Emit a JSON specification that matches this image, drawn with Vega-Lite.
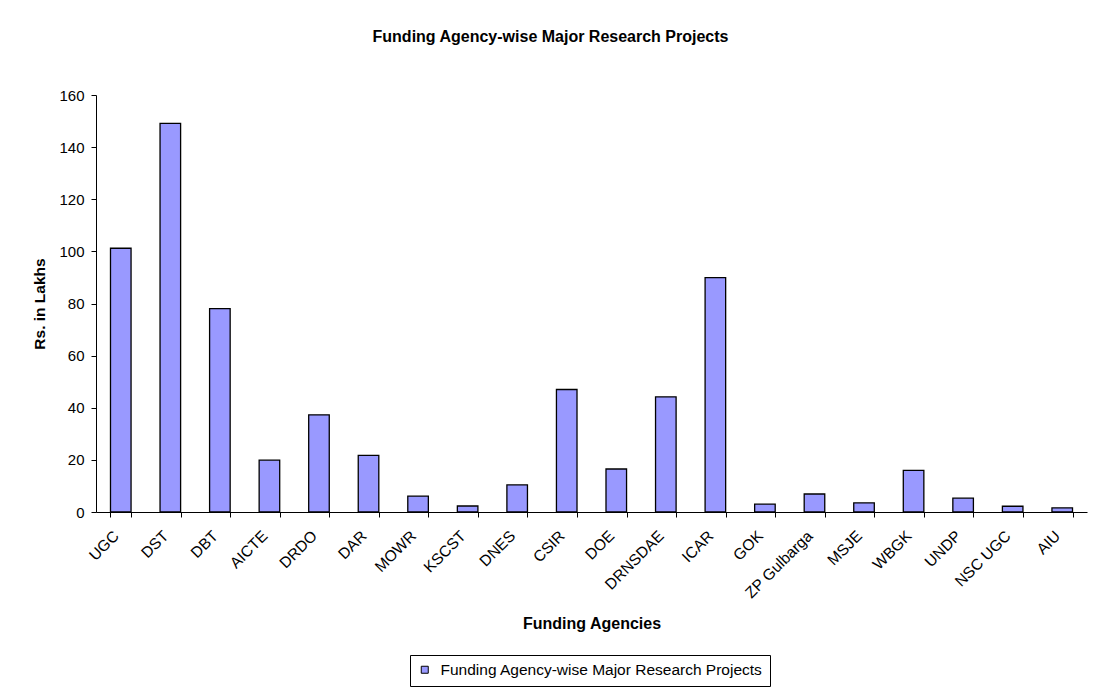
{
  "$schema": "https://vega.github.io/schema/vega-lite/v6.json",
  "autosize": "none",
  "width": 991,
  "height": 417,
  "padding": {"left": 96, "top": 95, "right": 10, "bottom": 177},
  "background": "white",
  "title": {
    "text": "Funding Agency-wise Major Research Projects",
    "font": "Liberation Sans",
    "fontSize": 16,
    "fontWeight": "bold",
    "color": "black",
    "anchor": "middle",
    "dx": -41,
    "offset": 43
  },
  "data": {
    "values": [
      {"agency": "UGC", "value": 101.2},
      {"agency": "DST", "value": 149.1},
      {"agency": "DBT", "value": 78.0},
      {"agency": "AICTE", "value": 19.9},
      {"agency": "DRDO", "value": 37.3},
      {"agency": "DAR", "value": 21.7},
      {"agency": "MOWR", "value": 6.1},
      {"agency": "KSCST", "value": 2.3},
      {"agency": "DNES", "value": 10.4},
      {"agency": "CSIR", "value": 47.0},
      {"agency": "DOE", "value": 16.5},
      {"agency": "DRNSDAE", "value": 44.2},
      {"agency": "ICAR", "value": 89.9},
      {"agency": "GOK", "value": 3.0},
      {"agency": "ZP Gulbarga", "value": 6.9},
      {"agency": "MSJE", "value": 3.5},
      {"agency": "WBGK", "value": 16.0},
      {"agency": "UNDP", "value": 5.3},
      {"agency": "NSC UGC", "value": 2.2},
      {"agency": "AIU", "value": 1.6}
    ]
  },
  "mark": {"type": "bar", "stroke": "black", "strokeWidth": 1.3},
  "encoding": {
    "x": {
      "field": "agency",
      "type": "nominal",
      "sort": null,
      "scale": {"paddingInner": 0.585, "paddingOuter": 0.2925},
      "axis": {
        "title": "Funding Agencies",
        "titleFont": "Liberation Sans",
        "titleFontSize": 16,
        "titleFontWeight": "bold",
        "titleColor": "black",
        "titleY": 116,
        "titleBaseline": "alphabetic",
        "labelFont": "Liberation Sans",
        "labelFontSize": 15.5,
        "labelColor": "black",
        "labelAngle": -45,
        "labelAlign": "right",
        "labelBaseline": "middle",
        "labelPadding": 16,
        "labelOffset": -5,
        "tickBand": "extent",
        "tickSize": 5,
        "tickColor": "black",
        "domainColor": "black",
        "grid": false
      }
    },
    "y": {
      "field": "value",
      "type": "quantitative",
      "scale": {"domain": [0, 160], "nice": false},
      "axis": {
        "title": "Rs. in Lakhs",
        "titleFont": "Liberation Sans",
        "titleFontSize": 15.5,
        "titleFontWeight": "bold",
        "titleColor": "black",
        "titleX": -52,
        "titleBaseline": "alphabetic",
        "values": [0, 20, 40, 60, 80, 100, 120, 140, 160],
        "labelFont": "Liberation Sans",
        "labelFontSize": 15,
        "labelColor": "black",
        "labelPadding": 7,
        "tickSize": 5,
        "tickColor": "black",
        "domainColor": "black",
        "grid": false
      }
    },
    "fill": {
      "datum": "Funding Agency-wise Major Research Projects",
      "type": "nominal",
      "scale": {"range": ["#9999FF"]},
      "legend": {
        "title": null,
        "orient": "none",
        "legendX": 314,
        "legendY": 560,
        "strokeColor": "black",
        "padding": 7,
        "symbolType": "square",
        "symbolSize": 49,
        "symbolStrokeColor": "black",
        "symbolStrokeWidth": 1,
        "labelFont": "Liberation Sans",
        "labelFontSize": 15.5,
        "labelColor": "black",
        "labelOffset": 8,
        "labelLimit": 600
      }
    }
  },
  "config": {"view": {"stroke": null}}
}
